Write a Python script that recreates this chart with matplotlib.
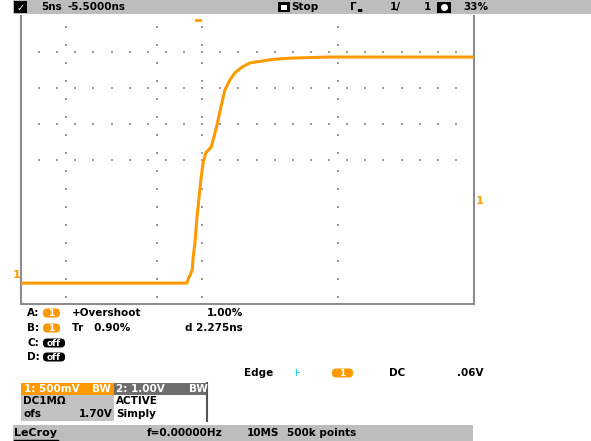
import numpy as np
import matplotlib
matplotlib.use("Agg")
import matplotlib.pyplot as plt
from matplotlib.patches import Rectangle, FancyBboxPatch

# Waveform (channel 1 step response)
time_ns = [-25.0, -6.7, -6.5, -6.1, -6.0, -5.8, -5.6, -5.35, -5.15, -4.9,
           -4.6, -4.0, -3.6, -3.25, -2.95, -2.5, -1.95, -1.4, -0.6, 0.3,
           1.4, 3.0, 4.7, 9.1, 25.0]
volts = [0.0, 0.0, 0.07, 0.18, 0.36, 0.56, 0.88, 1.19, 1.43, 1.67,
         1.81, 1.89, 2.08, 2.26, 2.44, 2.68, 2.82, 2.92, 3.0, 3.06,
         3.08, 3.11, 3.125, 3.14, 3.14]

# Scope settings
ns_per_div = 5.0
v_per_div = 0.5
x_divs, y_divs = 10, 8
y_bottom = -0.29

# Screen text
header_labels = ["5ns", "-5.5000ns", "Stop", "1/", "1", "33%"]
meas_labels = ["A:", "B:", "C:", "D:"]
meas_names = ["+Overshoot", "Tr   0.90%", "", ""]
meas_values = ["1.00%", "d 2.275ns", "", ""]
trigger_labels = ["Edge", "DC", ".06V"]
ch_labels = ["1: 500mV", "2: 1.00V"]
footer_labels = ["LeCroy", "f=0.00000Hz", "10MS", "500k points"]

ORANGE = "#ff9900"
W, H = 591, 441
fig = plt.figure(figsize=(W / 100, H / 100), dpi=100)

# Plot area (screen grid)
ax = fig.add_axes([21 / W, (H - 304) / H, (474 - 21) / W, (304 - 16) / H])
x_left = -ns_per_div * x_divs / 2
ax.set_xlim(x_left, x_left + ns_per_div * x_divs)
ax.set_ylim(y_bottom, y_bottom + v_per_div * y_divs)
ax.set_xticks([])
ax.set_yticks([])
for side in ["left", "bottom", "right"]:
    ax.spines[side].set_color("#8c8c8c")
    ax.spines[side].set_linewidth(1.5)
ax.spines["top"].set_visible(False)

# dotted graticule (only partly visible on this screen)
dot_x = np.arange(0.4, x_divs - 0.1, 0.4)
for row in [4, 5, 6, 7]:
    ax.scatter(x_left + dot_x * ns_per_div,
               np.full_like(dot_x, y_bottom + row * v_per_div),
               s=1.6, marker="s", color="#9a9a9a", linewidths=0, zorder=1)
dot_y = np.arange(0.2, y_divs, 0.5)
for col in [1, 3, 4, 7]:
    ax.scatter(np.full_like(dot_y, x_left + col * ns_per_div),
               y_bottom + dot_y * v_per_div,
               s=1.6, marker="s", color="#9a9a9a", linewidths=0, zorder=1)

ax.plot(time_ns, volts, color=ORANGE, lw=2.2, solid_capstyle="butt", zorder=3)

# Overlay for the scope UI, in pixel coordinates
ui = fig.add_axes([0, 0, 1, 1], zorder=5)
ui.set_xlim(0, W)
ui.set_ylim(H, 0)
ui.axis("off")
ui.patch.set_alpha(0)

fs = 7.5
txt = dict(fontsize=fs, fontweight="bold", va="center", family="DejaVu Sans")


def badge(x0, x1, y0, y1, face, label):
    ui.add_patch(FancyBboxPatch((x0, y0), x1 - x0, y1 - y0,
                                boxstyle="round,pad=0,rounding_size=4",
                                facecolor=face, edgecolor="none"))
    ui.text((x0 + x1) / 2, (y0 + y1) / 2 + 0.5, label, color="white",
            ha="center", **{**txt, "fontsize": 6.5})


# header bar
ui.add_patch(Rectangle((13, 0), W - 13, 14, facecolor="#bdbdbd", edgecolor="none"))
ui.add_patch(Rectangle((14, 1), 13, 12, facecolor="black"))
ui.text(20.5, 7.5, "\u2713", color="white", ha="center", **{**txt, "fontsize": 7})
ui.text(41, 7, header_labels[0], color="black", **txt)
ui.text(68, 7, header_labels[1], color="black", **txt)
ui.add_patch(Rectangle((278, 2), 12, 10, facecolor="black"))
ui.add_patch(Rectangle((281, 4.5), 6, 5, facecolor="white"))
ui.text(291, 7, header_labels[2], color="black", **txt)
ui.text(350, 7, "\u0393", color="black", **txt)
ui.text(357, 9, "\u2584", color="black", **{**txt, "fontsize": 4})
ui.text(390, 7, header_labels[3], color="black", **txt)
ui.text(424, 7, header_labels[4], color="black", **txt)
ui.add_patch(Rectangle((437, 1.5), 14, 11, facecolor="black"))
ui.plot([444], [7], marker="o", ms=4, color="white")
ui.text(463, 7, header_labels[5], color="black", **txt)

# trigger position marker and channel markers
ui.plot([196, 200], [20, 20], color=ORANGE, lw=2)
ui.text(17, 275, "1", color=ORANGE, ha="center", **{**txt, "fontsize": 8})
ui.text(480, 201, "1", color=ORANGE, ha="center", **{**txt, "fontsize": 8})

# measurement rows
row_y = [313, 328, 343, 357]
for i, y in enumerate(row_y):
    ui.text(27, y, meas_labels[i], color="black", **txt)
    if meas_names[i]:
        badge(43, 60, y - 4.5, y + 4.5, ORANGE, "1")
        ui.text(72, y, meas_names[i], color="black", **txt)
        ui.text(243, y, meas_values[i], color="black", ha="right", **txt)
    else:
        badge(43, 65, y - 4.5, y + 4.5, "black", "off")

# trigger row
ui.text(244, 373, trigger_labels[0], color="black", **txt)
ui.text(294, 373, "\u22a6", color="#22d3f0", **txt)
badge(332, 353, 368.5, 377.5, ORANGE, "1")
ui.text(389, 373, trigger_labels[1], color="black", **txt)
ui.text(483, 373, trigger_labels[2], color="black", ha="right", **txt)

# channel descriptor boxes
ui.add_patch(Rectangle((21, 383), 93, 12, facecolor=ORANGE))
ui.add_patch(Rectangle((114, 383), 93, 12, facecolor="#6e6e6e"))
ui.add_patch(Rectangle((21, 395), 93, 26, facecolor="#c2c2c2"))
ui.add_patch(Rectangle((114, 395), 93, 26, facecolor="white"))
ui.plot([207, 207], [383, 421], color="#555555", lw=1.5)
ui.text(24, 389, ch_labels[0], color="white", **txt)
ui.text(92, 389, "BW", color="white", **txt)
ui.text(116, 389, ch_labels[1], color="white", **txt)
ui.text(189, 389, "BW", color="white", **txt)
ui.text(23, 401, "DC1M\u03a9", color="black", **txt)
ui.text(23, 414, "ofs", color="black", **txt)
ui.text(113, 414, "1.70V", color="black", ha="right", **txt)
ui.text(116, 401, "ACTIVE", color="black", **txt)
ui.text(116, 414, "Simply", color="black", **txt)

# footer bar
ui.add_patch(Rectangle((13, 425), 460, 16, facecolor="#bdbdbd", edgecolor="none"))
ui.text(14, 433, footer_labels[0], color="black", **{**txt, "fontsize": 8})
ui.plot([14, 58], [440, 440], color="black", lw=1)
ui.text(147, 433, footer_labels[1], color="black", **txt)
ui.text(247, 433, footer_labels[2], color="black", **txt)
ui.text(287, 433, footer_labels[3], color="black", **txt)

fig.savefig("out.png", dpi=100)
